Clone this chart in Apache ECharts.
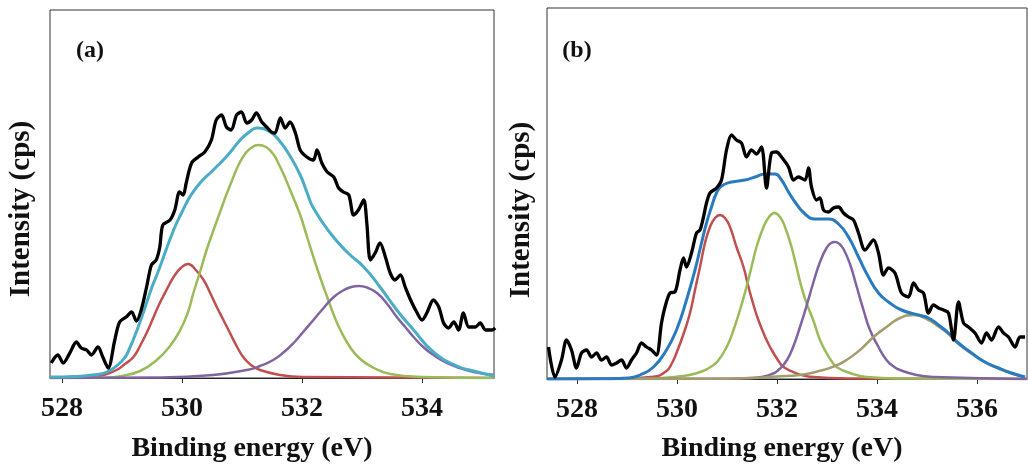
<!DOCTYPE html>
<html>
<head>
<meta charset="utf-8">
<script src="https://cdn.jsdelivr.net/npm/echarts@6/dist/echarts.min.js"></script>
<style>
  html, body { margin: 0; padding: 0; background: #fff; }
  #main { width: 1028px; height: 469px; }
</style>
</head>
<body>
<div id="main"></div>
<script>
// XPS O 1s spectra, [binding energy (eV), intensity (arb. cps)]
let tickValuesA = [528, 530, 532, 534]
let tickValuesB = [528, 530, 532, 534, 536]

// ---- panel (a)
let rawA = [
  [527.82, 15], [527.93, 23], [528.02, 15], [528.13, 25], [528.24, 36], [528.32, 30], [528.41, 28],
  [528.49, 23], [528.60, 31], [528.68, 21], [528.77, 10], [528.88, 38], [528.96, 56], [529.07, 61],
  [529.16, 66], [529.24, 57], [529.32, 68], [529.41, 91], [529.49, 113], [529.57, 118], [529.63, 131],
  [529.68, 153], [529.80, 158], [529.88, 168], [529.96, 186], [530.02, 183], [530.07, 195], [530.16, 215],
  [530.27, 221], [530.38, 226], [530.49, 238], [530.57, 258], [530.66, 263], [530.74, 251], [530.82, 248],
  [530.91, 263], [530.99, 266], [531.08, 255], [531.16, 258], [531.24, 265], [531.33, 256], [531.41, 251],
  [531.49, 246], [531.55, 245], [531.64, 260], [531.72, 250], [531.80, 256], [531.89, 245], [531.97, 228],
  [532.08, 221], [532.19, 218], [532.25, 228], [532.33, 215], [532.42, 206], [532.53, 201], [532.61, 190],
  [532.69, 186], [532.78, 183], [532.86, 163], [532.94, 168], [533.03, 178], [533.08, 155], [533.14, 118],
  [533.22, 125], [533.30, 135], [533.39, 121], [533.47, 105], [533.55, 98], [533.64, 103], [533.72, 91],
  [533.81, 78], [533.92, 65], [534.00, 58], [534.08, 65], [534.19, 78], [534.28, 71], [534.36, 55],
  [534.44, 50], [534.53, 56], [534.61, 48], [534.69, 65], [534.78, 51], [534.89, 51], [534.97, 55],
  [535.06, 48], [535.17, 48], [535.22, 50]
]
let envelopeA = [
  [527.8, 1], [528.2, 1.5], [528.5, 3], [528.75, 6], [529.0, 17], [529.1, 26], [529.3, 56], [529.5, 91],
  [529.6, 106], [529.86, 148], [530.0, 166], [530.14, 182], [530.3, 195], [530.52, 208], [530.75, 222],
  [530.97, 238], [531.1, 245], [531.25, 250], [531.47, 246], [531.64, 236], [531.8, 222], [531.97, 203],
  [532.08, 186], [532.19, 170], [532.47, 145], [532.75, 126], [533.03, 111], [533.3, 91], [533.58, 68],
  [533.86, 48], [534.19, 26], [534.58, 12], [534.86, 7], [535.2, 2]
]
let redA = [
  [527.8, 0], [528.5, 1], [528.69, 3], [528.91, 8], [529.05, 14], [529.19, 21], [529.3, 32], [529.41, 45],
  [529.52, 60], [529.63, 75], [529.75, 89], [529.86, 101], [529.98, 110], [530.1, 114], [530.23, 108],
  [530.36, 98], [530.47, 85], [530.58, 71], [530.69, 58], [530.8, 45], [530.91, 32], [531.02, 21],
  [531.15, 13], [531.3, 8], [531.64, 3], [532.0, 1], [535.2, 0]
]
let greenA = [
  [527.8, 0], [528.8, 0.5], [529.0, 2], [529.3, 7], [529.58, 18], [529.8, 32], [529.97, 48], [530.1, 66],
  [530.19, 85], [530.3, 106], [530.41, 128], [530.52, 147], [530.64, 167], [530.75, 185], [530.85, 200],
  [530.95, 214], [531.05, 224], [531.15, 230], [531.27, 233], [531.4, 231], [531.52, 224], [531.62, 213],
  [531.72, 200], [531.85, 181], [531.97, 163], [532.08, 142], [532.19, 121], [532.3, 101], [532.42, 81],
  [532.53, 63], [532.64, 48], [532.8, 31], [532.97, 19], [533.2, 10], [533.47, 4], [534.0, 1], [535.2, 0]
]
let purpleA = [
  [527.8, 0], [529.6, 0.5], [530.52, 3], [531.08, 8], [531.3, 12], [531.52, 18], [531.7, 26], [531.86, 35],
  [532.02, 46], [532.19, 58], [532.36, 70], [532.53, 81], [532.7, 88], [532.82, 91], [532.95, 92],
  [533.1, 90], [533.25, 85], [533.42, 74], [533.58, 61], [533.72, 51], [533.86, 41], [534.02, 31],
  [534.19, 23], [534.38, 16], [534.58, 11], [534.86, 6], [535.2, 3]
]

// ---- panel (b)
let rawB = [
  [527.43, 32], [527.56, 2], [527.69, 19], [527.79, 39], [527.89, 29], [527.99, 11], [528.09, 26],
  [528.19, 29], [528.29, 22], [528.39, 26], [528.49, 19], [528.59, 22], [528.69, 14], [528.79, 16],
  [528.89, 19], [528.99, 11], [529.09, 19], [529.19, 26], [529.29, 36], [529.39, 32], [529.49, 29],
  [529.59, 24], [529.69, 56], [529.76, 72], [529.86, 86], [529.96, 87], [530.06, 109], [530.13, 121],
  [530.19, 112], [530.29, 126], [530.39, 146], [530.46, 149], [530.53, 162], [530.59, 176], [530.66, 186],
  [530.79, 191], [530.89, 199], [530.99, 229], [531.09, 244], [531.19, 239], [531.29, 236], [531.39, 222],
  [531.49, 229], [531.59, 225], [531.69, 232], [531.79, 191], [531.89, 226], [531.99, 227], [532.09, 222],
  [532.23, 212], [532.33, 199], [532.43, 202], [532.56, 199], [532.63, 211], [532.69, 192], [532.79, 179],
  [532.86, 181], [532.93, 169], [533.03, 167], [533.13, 171], [533.23, 172], [533.33, 166], [533.43, 162],
  [533.53, 159], [533.63, 146], [533.76, 129], [533.93, 139], [534.03, 126], [534.13, 104], [534.23, 111],
  [534.36, 106], [534.49, 86], [534.63, 82], [534.73, 96], [534.83, 89], [534.93, 86], [535.03, 66],
  [535.13, 74], [535.23, 71], [535.33, 69], [535.43, 66], [535.53, 39], [535.63, 77], [535.73, 56],
  [535.83, 52], [535.96, 46], [536.09, 36], [536.19, 46], [536.29, 39], [536.43, 52], [536.53, 46],
  [536.63, 42], [536.76, 32], [536.86, 42], [536.96, 42]
]
let envelopeB = [
  [527.4, 0], [528.5, 0.3], [529.03, 1], [529.26, 4], [529.53, 12], [529.79, 29], [529.99, 49],
  [530.19, 79], [530.36, 109], [530.49, 136], [530.59, 156], [530.69, 172], [530.79, 186], [530.89, 193],
  [531.09, 197], [531.36, 199], [531.56, 202], [531.76, 205], [531.96, 205], [532.09, 199], [532.23, 187],
  [532.36, 177], [532.56, 165], [532.76, 160], [533.03, 160], [533.23, 155], [533.43, 142], [533.63, 122],
  [533.83, 102], [534.03, 86], [534.23, 77], [534.49, 69], [534.83, 64], [535.03, 61], [535.23, 54],
  [535.43, 46], [535.63, 36], [535.89, 26], [536.16, 17], [536.43, 11], [536.69, 6], [536.96, 2]
]
let redB = [
  [527.4, 0], [528.8, 0.5], [529.53, 2.3], [529.79, 8], [529.9, 16], [529.99, 26], [530.13, 45],
  [530.26, 66], [530.36, 89], [530.46, 112], [530.56, 136], [530.66, 152], [530.76, 161], [530.86, 164],
  [530.96, 161], [531.06, 152], [531.19, 132], [531.33, 112], [531.43, 92], [531.56, 69], [531.65, 56],
  [531.73, 46], [531.83, 35], [531.93, 26], [532.03, 18], [532.13, 12], [532.39, 5.7], [532.66, 2.3],
  [533.5, 0.5], [537, 0]
]
let greenB = [
  [527.4, 0], [529.5, 0.5], [529.99, 2.3], [530.39, 5.7], [530.73, 14], [530.86, 21], [530.96, 29],
  [531.05, 38], [531.13, 49], [531.26, 69], [531.39, 92], [531.49, 112], [531.59, 132], [531.73, 152],
  [531.84, 162], [531.95, 166], [532.06, 162], [532.16, 152], [532.29, 132], [532.39, 112], [532.49, 92],
  [532.59, 76], [532.73, 58], [532.86, 39], [532.99, 26], [533.09, 18], [533.19, 12], [533.46, 6],
  [533.79, 2], [534.5, 0.5], [537, 0]
]
let purpleB = [
  [527.4, 0], [531.0, 0.3], [531.5, 1], [531.9, 5], [532.05, 10], [532.2, 19], [532.33, 33], [532.46, 52],
  [532.59, 73], [532.73, 97], [532.86, 117], [532.99, 131], [533.08, 136], [533.16, 137], [533.25, 135],
  [533.33, 130], [533.46, 115], [533.59, 93], [533.73, 69], [533.86, 49], [534.03, 32], [534.19, 19],
  [534.32, 13], [534.46, 9], [534.79, 4], [535.13, 2], [537, 0]
]
let oliveB = [
  [527.4, 0], [530.5, 0.3], [531.5, 1], [532.0, 2.5], [532.46, 4], [532.79, 7.3], [533.13, 12.3],
  [533.39, 19], [533.66, 29], [533.93, 42], [534.19, 52], [534.46, 61], [534.73, 64], [535.03, 59],
  [535.23, 52.5], [535.43, 45], [535.63, 35], [535.89, 25.5], [536.16, 16.5], [536.43, 10.5],
  [536.69, 5.5], [536.96, 2]
]

let serif = '"Liberation Serif", "Times New Roman", serif'

function xAxisFor(gridIndex, min, max, ticks) {
    return {
        type: 'value', gridIndex: gridIndex, min: min, max: max,
        axisLine: { show: true, lineStyle: { color: '#222', width: 1 } },
        axisTick: { show: true, inside: false, length: 5, customValues: ticks, lineStyle: { color: '#333' } },
        axisLabel: {
            customValues: ticks, margin: 17, color: '#111',
            fontFamily: serif, fontWeight: 'bold', fontSize: 28
        },
        splitLine: { show: false }
    }
}

function yAxisFor(gridIndex, max) {
    return {
        type: 'value', gridIndex: gridIndex, min: 0, max: max,
        axisLine: { show: false }, axisTick: { show: false },
        axisLabel: { show: false }, splitLine: { show: false }
    }
}

function line(data, color, width, idx, smooth) {
    return {
        type: 'line', data: data, xAxisIndex: idx, yAxisIndex: idx,
        showSymbol: false, smooth: smooth, silent: true,
        lineStyle: { color: color, width: width }
    }
}

function label(text, x, y, size, rotation) {
    return {
        type: 'text', x: x, y: y, rotation: rotation || 0,
        style: {
            text: text, fill: '#111', align: 'center', verticalAlign: 'middle',
            font: 'bold ' + size + 'px ' + serif
        }
    }
}

var myChart = echarts.init(document.getElementById('main'))

let option = {
    animation: false,
    backgroundColor: '#fff',
    grid: [
        { left: 50, top: 10, width: 444, height: 368, show: true, borderColor: '#333', borderWidth: 1 },
        { left: 547, top: 8, width: 480, height: 371, show: true, borderColor: '#333', borderWidth: 1 }
    ],
    xAxis: [xAxisFor(0, 527.8, 535.2, tickValuesA), xAxisFor(1, 527.4, 537.0, tickValuesB)],
    yAxis: [yAxisFor(0, 368), yAxisFor(1, 371)],
    series: [
        line(redA, '#c0504d', 2.5, 0, 0.5),
        line(greenA, '#9bbb59', 2.5, 0, 0.5),
        line(purpleA, '#8064a2', 2.5, 0, 0.5),
        line(envelopeA, '#4bacc6', 3, 0, 0.5),
        line(rawA, '#000', 3.3, 0, 0.3),

        line(redB, '#c0504d', 2.5, 1, 0.5),
        line(greenB, '#9bbb59', 2.5, 1, 0.5),
        line(purpleB, '#8064a2', 2.5, 1, 0.5),
        line(oliveB, '#a39c6c', 2.5, 1, 0.5),
        line(envelopeB, '#2a7abf', 3, 1, 0.5),
        line(rawB, '#000', 3.3, 1, 0.3)
    ],
    graphic: [
        label('(a)', 90, 51, 24),
        label('(b)', 577, 51, 24),
        label('Intensity (cps)', 22, 209, 29, Math.PI / 2),
        label('Intensity (cps)', 522, 210, 29, Math.PI / 2),
        label('Binding energy (eV)', 252, 449, 28),
        label('Binding energy (eV)', 782, 449, 28)
    ]
}

myChart.setOption(option)
</script>
</body>
</html>
